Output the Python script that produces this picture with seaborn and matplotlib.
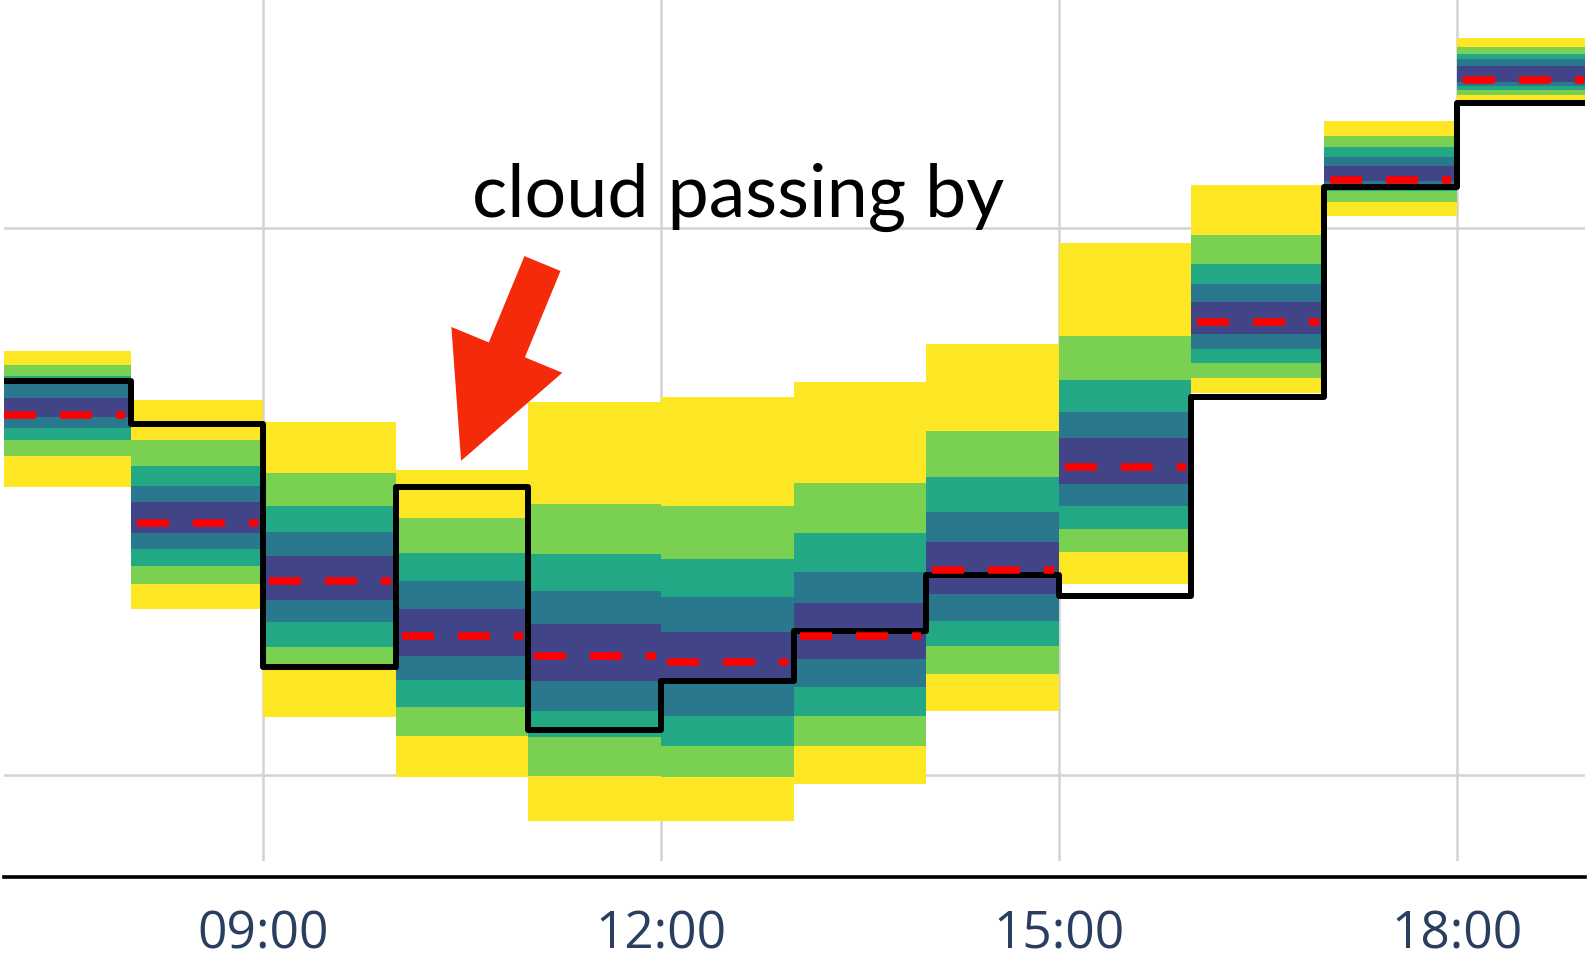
import matplotlib
matplotlib.use("Agg")
import matplotlib.pyplot as plt
import pandas as pd
import seaborn as sns

# Hourly interval start times (hour of day); each interval lasts one hour
hours = [7, 8, 9, 10, 11, 12, 13, 14, 15, 16, 17, 18]
tick_hours = [9, 12, 15, 18]
tick_labels = ["09:00", "12:00", "15:00", "18:00"]

# Measured value per hour (black step line)
actual = [34.42, 32.83, 23.94, 30.53, 21.65, 23.45, 25.28, 27.31, 26.56, 33.81, 41.49, 44.57]
# Median forecast per hour (red dashed)
median = [33.18, 29.21, 27.10, 25.07, 24.36, 24.12, 25.09, 27.51, 31.25, 36.55, 41.75, 45.42]

# Forecast quantile bands, from the outermost to the innermost
outer_hi = [35.51, 33.72, 32.90, 31.16, 33.65, 33.81, 34.38, 35.76, 39.45, 41.57, 43.92, 46.94]
outer_lo = [30.52, 26.07, 22.11, 19.92, 18.33, 18.33, 19.67, 22.35, 26.98, 33.97, 40.45, 44.65]
wide_hi = [34.99, 32.26, 31.04, 29.39, 29.91, 29.85, 30.68, 32.59, 36.06, 39.74, 43.37, 46.61]
wide_lo = [31.67, 26.98, 23.99, 21.44, 19.97, 19.92, 21.07, 23.69, 28.14, 34.50, 40.96, 44.87]
mid_hi = [34.59, 31.31, 29.82, 28.12, 28.08, 27.90, 28.85, 30.88, 34.45, 38.68, 42.95, 46.36]
mid_lo = [32.24, 27.65, 24.67, 22.48, 21.38, 21.07, 22.17, 24.73, 28.99, 35.06, 41.36, 45.05]
narrow_hi = [34.28, 30.58, 28.87, 27.08, 26.72, 26.50, 27.43, 29.61, 33.28, 37.95, 42.58, 46.18]
narrow_lo = [32.69, 28.26, 25.61, 23.47, 22.35, 22.17, 23.21, 25.64, 29.82, 35.58, 41.55, 45.19]
inner_hi = [33.80, 29.97, 28.00, 26.07, 25.52, 25.22, 26.29, 28.51, 32.31, 37.28, 42.28, 45.93]
inner_lo = [33.08, 28.85, 26.41, 24.36, 23.45, 23.50, 24.24, 26.62, 30.64, 36.12, 41.70, 45.34]

band_colors = ["#FDE725", "#7AD151", "#22A884", "#2A788E", "#414487"]
bands = [
    (outer_lo, outer_hi),
    (wide_lo, wide_hi),
    (mid_lo, mid_hi),
    (narrow_lo, narrow_hi),
    (inner_lo, inner_hi),
]

annotation_text = "cloud passing by"

sns.set_style("white")
plt.rcParams["lines.scale_dashes"] = False
plt.rcParams["font.family"] = ["Open Sans", "DejaVu Sans"]

fig = plt.figure(figsize=(15.88, 9.62), dpi=100)
ax = fig.add_axes([4 / 1588, 1 - 862 / 962, 1581 / 1588, 862 / 962])

edges = hours + [hours[-1] + 1]


def extend(vals):
    return list(vals) + [vals[-1]]


# Quantile bands as hourly steps, outer first so inner bands sit on top
for (lo, hi), col in zip(bands, band_colors):
    ax.fill_between(edges, extend(lo), extend(hi), step="post",
                    color=col, linewidth=0, zorder=1)

# Measured values as a step line
sns.lineplot(x=edges, y=extend(actual), drawstyle="steps-post", color="black",
             linewidth=4.3, solid_joinstyle="round", solid_capstyle="round",
             ax=ax, zorder=3)

# Median forecast: one dashed segment per hour
seg_rows = []
for i, (h, m) in enumerate(zip(hours, median)):
    seg_rows.append({"x": h + 0.045, "y": m, "seg": i})
    seg_rows.append({"x": h + 0.96, "y": m, "seg": i})
seg_df = pd.DataFrame(seg_rows)
sns.lineplot(data=seg_df, x="x", y="y", units="seg", estimator=None,
             color="#ff0000", linewidth=5.4, linestyle=(0, (23, 17.3)),
             dash_capstyle="butt", ax=ax, zorder=4, legend=False)

# Annotation
ax.text(10.574, 40.45, annotation_text, fontsize=53, family="Lato",
        color="black", ha="left", va="baseline", zorder=5)
ax.annotate("", xy=(10.492, 31.49), xytext=(11.106, 38.70),
            arrowprops=dict(arrowstyle="simple,head_length=1.20,head_width=1.20,tail_width=0.39",
                            mutation_scale=72, color="#f42a0a", lw=0,
                            shrinkA=0, shrinkB=0),
            zorder=5)

ax.set_xlim(7.045, 18.968)
ax.set_ylim(16.86, 48.37)
ax.set_xticks(tick_hours)
ax.set_xticklabels(tick_labels)
ax.set_yticks([20, 40])
ax.set_xlabel("")
ax.set_ylabel("")

ax.grid(True, color="#d3d3d3", linewidth=1.8)
ax.set_axisbelow(True)

for side in ["left", "top", "right"]:
    ax.spines[side].set_visible(False)
ax.spines["bottom"].set_position(("outward", 11.5))
ax.spines["bottom"].set_linewidth(2.6)
ax.spines["bottom"].set_color("black")

ax.tick_params(axis="y", length=0, labelleft=False)
ax.tick_params(axis="x", direction="out", length=13, width=1.4, color="black",
               labelcolor="#2a3f5f", labelsize=37, pad=10)
for lbl in ax.get_xticklabels():
    lbl.set_fontfamily("Open Sans")

fig.savefig("out.png", dpi=100, facecolor="white")
